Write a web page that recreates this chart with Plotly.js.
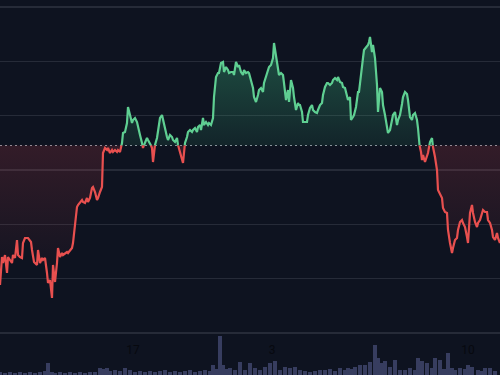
<!DOCTYPE html>
<html>
<head>
<meta charset="utf-8">
<script src="https://cdn.plot.ly/plotly-3.0.1.min.js"></script>
<style>
html,body{margin:0;padding:0;background:#0e1320;}
#chart{width:500px;height:375px;}
</style>
</head>
<body>
<div id="chart"></div>
<script>
// time positions (sample index along the session) and price values
const t = [0,2,3,5,7,8,10,12,13,15,17,18,20,22,23,25,28,31,32,34,37,38,40,42,43,45,47,48,50,52,53,55,57,58,60,62,63,65,67,68,70,72,73,75,77,78,80,82,83,85,87,88,90,92,93,95,97,98,100,102,103,105,107,108,110,112,113,115,117,118,120,122,123,125,127,128,130,132,133,135,137,138,140,142,143,145,147,148,150,152,153,155,157,158,160,162,163,165,167,168,170,172,173,175,177,178,180,182,183,185,187,188,190,192,193,195,197,198,200,201,203,204,206,208,209,211,213,214,216,218,219,221,223,224,226,228,229,231,233,234,236,238,239,241,243,244,246,248,249,251,253,254,256,258,259,261,263,264,266,268,269,271,273,274,276,278,279,281,283,284,286,288,289,291,293,294,296,298,299,300,302,303,305,307,308,310,312,313,315,317,318,320,322,323,325,327,328,330,332,333,335,337,338,340,342,343,345,347,348,350,351,353,354,356,358,359,361,363,364,366,368,369,370,372,373,375,377,378,380,382,383,385,387,388,390,392,393,395,397,398,400,402,403,405,407,408,410,412,413,415,417,418,419,421,422,423,425,427,428,430,432,433,435,437,438,440,442,443,445,447,448,450,452,453,455,457,458,460,462,463,465,467,468,470,472,473,475,477,478,480,482,483,485,487,488,490,492,493,495,497,498,500];
const price = [90,118,112,120,102,118,115,112,120,117,135,120,118,117,132,137,137,133,125,113,110,125,112,117,115,117,102,92,95,77,110,93,112,127,118,122,120,122,123,122,125,127,132,152,168,170,173,175,173,172,177,173,177,187,188,183,175,177,183,188,222,227,225,227,222,225,223,225,223,225,223,232,242,243,252,268,260,252,255,257,253,248,240,232,227,233,237,235,232,227,213,230,237,243,257,260,255,245,238,235,240,238,235,233,237,230,223,218,212,232,238,243,245,243,245,247,243,248,250,245,257,250,253,250,252,250,257,278,298,302,302,312,313,303,308,305,302,303,303,300,313,308,310,303,300,305,302,303,302,295,287,278,273,280,285,287,283,292,298,305,308,310,317,332,318,302,300,302,300,292,275,285,273,295,287,278,265,272,270,270,263,253,253,253,260,267,270,265,263,262,265,270,272,280,288,292,292,290,292,295,297,295,298,293,292,288,287,277,275,278,255,258,260,268,283,283,303,317,325,327,330,333,338,323,330,317,290,263,287,283,270,260,250,242,245,253,260,263,250,255,260,271,278,283,281,275,258,255,260,262,255,247,232,223,215,220,213,220,222,233,237,228,218,205,185,180,177,167,163,162,145,132,122,127,135,137,145,153,155,152,148,138,132,162,170,162,153,148,152,155,163,165,163,163,155,152,145,138,135,142,137,132];
const baseline = 229.5;
// volume bars
const volT = [0,5,10,15,20,25,30,35,40,45,48,52,55,60,65,70,75,80,85,90,95,100,103,107,110,115,120,125,130,135,140,145,150,155,160,165,170,175,180,185,190,195,200,205,210,213,217,220,223,227,230,235,240,245,250,255,260,265,270,275,280,285,290,295,300,305,310,315,320,325,330,335,340,345,348,352,355,360,365,370,375,378,382,385,390,395,400,405,410,415,418,422,427,432,435,440,444,448,452,455,460,465,468,472,478,482,485,490,495];
const vol = [3,2,3,2,3,2,3,2,3,4,12,3,2,3,2,3,2,3,2,3,3,7,6,7,4,5,4,7,5,3,4,3,4,3,4,5,3,4,3,4,5,3,4,5,4,10,6,39,10,6,7,5,13,5,12,7,5,8,12,14,5,8,7,8,5,4,3,4,5,5,6,4,7,5,7,6,8,10,10,13,30,17,12,14,8,15,5,5,7,5,17,14,12,7,17,15,6,22,7,5,7,6,10,8,5,4,7,7,4];
const tickPos = [133, 272, 468];
const tickLabels = ['17', '3', '10'];

// split the series at the baseline crossings
const X = [], Y = [];
for (let i = 0; i < t.length; i++) {
  X.push(t[i]); Y.push(price[i]);
  if (i < t.length - 1) {
    const a = price[i] - baseline, b = price[i+1] - baseline;
    if (a * b < 0) {
      const f = (baseline - price[i]) / (price[i+1] - price[i]);
      X.push(t[i] + f * (t[i+1] - t[i])); Y.push(baseline);
    }
  }
}
const up = Y.map(v => Math.max(v, baseline));
const dn = Y.map(v => Math.min(v, baseline));
const upLine = Y.map(v => v >= baseline ? v : null);
const dnLine = Y.map(v => v <= baseline ? v : null);
const baseArr = X.map(() => baseline);

const GREEN = '#5fcf92', RED = '#e8504f';
const traces = [
  {x: X, y: baseArr, mode: 'lines', line: {width: 0}, hoverinfo: 'skip', showlegend: false},
  {x: X, y: up, mode: 'lines', line: {width: 0}, fill: 'tonexty', hoverinfo: 'skip', showlegend: false,
   fillgradient: {type: 'vertical', start: baseline, stop: 338,
     colorscale: [[0, 'rgba(60,190,130,0.10)'], [1, 'rgba(60,190,130,0.38)']]}},
  {x: X, y: baseArr, mode: 'lines', line: {width: 0}, hoverinfo: 'skip', showlegend: false},
  {x: X, y: dn, mode: 'lines', line: {width: 0}, fill: 'tonexty', hoverinfo: 'skip', showlegend: false,
   fillgradient: {type: 'vertical', start: 85, stop: baseline,
     colorscale: [[0, 'rgba(230,70,80,0.0)'], [1, 'rgba(230,70,80,0.17)']]}},
  {x: X, y: upLine, mode: 'lines', line: {color: GREEN, width: 2.2}, connectgaps: false, showlegend: false},
  {x: X, y: dnLine, mode: 'lines', line: {color: RED, width: 2.2}, connectgaps: false, showlegend: false},
  {x: volT, y: vol, type: 'bar', yaxis: 'y2', width: 3.2, marker: {color: '#373d5f', line: {width: 0}}, showlegend: false}
];

const layout = {
  width: 500, height: 375,
  margin: {l: 0, r: 0, t: 0, b: 0},
  paper_bgcolor: '#0e1320', plot_bgcolor: '#0e1320',
  showlegend: false,
  xaxis: {range: [0, 500], showgrid: false, zeroline: false, showline: false,
    tickmode: 'array', tickvals: tickPos, ticktext: tickLabels, ticks: '',
    ticklabelposition: 'inside', ticklabelstandoff: 16,
    tickfont: {family: 'Roboto, sans-serif', size: 12, color: '#07090f'}},
  yaxis: {range: [0, 375], showticklabels: false, zeroline: false, showline: false, ticks: '',
    tick0: 42, dtick: 54.33, gridcolor: '#262b38', gridwidth: 1.5},
  yaxis2: {range: [0, 375], overlaying: 'y', visible: false, showgrid: false},
  shapes: [{type: 'line', xref: 'paper', x0: 0, x1: 1, yref: 'y', y0: baseline, y1: baseline,
    line: {color: '#8c919b', width: 1, dash: '2px,3px'}, layer: 'below'}],
  bargap: 0
};
Plotly.newPlot('chart', traces, layout, {displayModeBar: false, staticPlot: true});
</script>
</body>
</html>
